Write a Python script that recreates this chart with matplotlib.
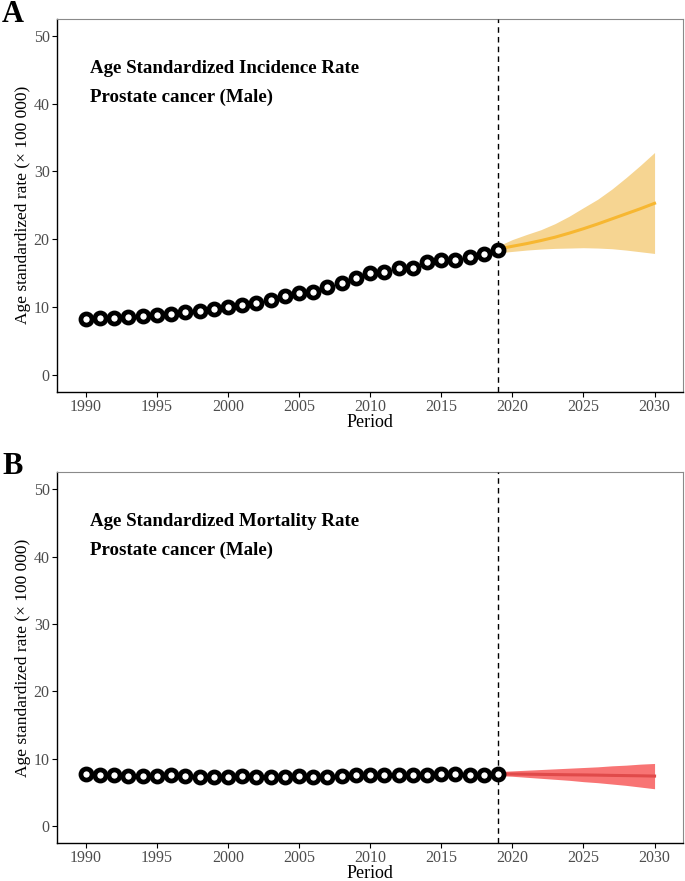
import matplotlib
matplotlib.use("Agg")
import matplotlib.pyplot as plt

plt.rcParams['font.family'] = ['Liberation Serif', 'DejaVu Serif']

years = list(range(1990, 2020))
incidence = [8.29, 8.39, 8.44, 8.59, 8.69, 8.84, 9.04, 9.24, 9.44, 9.69,
             9.93, 10.33, 10.58, 11.07, 11.56, 12.0, 12.26, 12.9, 13.5, 14.34,
             15.05, 15.23, 15.72, 15.82, 16.57, 16.87, 16.87, 17.36, 17.86, 18.45]
mortality = [7.68, 7.63, 7.53, 7.48, 7.48, 7.48, 7.53, 7.43, 7.33, 7.33,
             7.33, 7.38, 7.33, 7.28, 7.33, 7.38, 7.28, 7.28, 7.38, 7.53,
             7.56, 7.53, 7.56, 7.53, 7.63, 7.73, 7.68, 7.63, 7.58, 7.73]

fyears = list(range(2019, 2031))
inc_mean = [18.56, 18.96, 19.35, 19.8, 20.3, 20.9, 21.55, 22.25, 23.0, 23.75, 24.5, 25.3]
inc_low = [18.0, 18.2, 18.4, 18.55, 18.65, 18.7, 18.75, 18.7, 18.6, 18.4, 18.15, 17.9]
inc_up = [19.0, 19.95, 20.7, 21.4, 22.3, 23.4, 24.66, 25.9, 27.4, 29.1, 30.9, 32.8]
mor_mean = [7.75, 7.73, 7.71, 7.68, 7.65, 7.62, 7.6, 7.57, 7.53, 7.5, 7.47, 7.43]
mor_low = [7.5, 7.4, 7.25, 7.1, 6.95, 6.8, 6.6, 6.45, 6.25, 6.05, 5.8, 5.55]
mor_up = [8.1, 8.2, 8.3, 8.4, 8.5, 8.6, 8.7, 8.8, 8.95, 9.05, 9.2, 9.3]

xticks = [1990, 1995, 2000, 2005, 2010, 2015, 2020, 2025, 2030]
yticks = [0, 10, 20, 30, 40, 50]

W, H = 685, 881
fig = plt.figure(figsize=(W / 100, H / 100), dpi=100)


def panel(rect_px, obs, mean, low, up, band_col, line_col, title, letter, letter_y):
    l, t, r, b = rect_px
    ax = fig.add_axes([l / W, 1 - b / H, (r - l) / W, (b - t) / H])
    ax.set_xlim(1988, 2032)
    ax.set_ylim(-2.5, 52.5)
    ax.fill_between(fyears, low, up, color=band_col, lw=0, zorder=1)
    ax.plot(fyears, mean, color=line_col, lw=2.2, zorder=2)
    ax.axvline(2019, color='black', lw=1.0, ls=(0, (4, 3)), zorder=3)
    ax.plot(years, obs, ls='none', marker='o', ms=8, mew=3.4,
            mec='black', mfc='white', zorder=4)
    ax.set_xticks(xticks)
    ax.set_yticks(yticks)
    ax.tick_params(axis='both', labelcolor='#4d4d4d', color='black',
                   labelsize=11.5, length=3.5, width=0.8, direction='out', pad=2)
    ax.tick_params(axis='x', pad=1.5)
    for s in ['left', 'bottom']:
        ax.spines[s].set_color('black')
        ax.spines[s].set_linewidth(1.0)
    for s in ['top', 'right']:
        ax.spines[s].set_color('#8a8a8a')
        ax.spines[s].set_linewidth(0.8)
    ax.set_xlabel('Period', fontsize=13, labelpad=-0.5)
    ax.set_ylabel('Age standardized rate (\u00d7 100 000)', fontsize=12.5, labelpad=2)
    ax.text(1990.3, 45.2, title, fontsize=13.6, fontweight='bold', va='center', ha='left')
    ax.text(1990.3, 40.9, 'Prostate cancer (Male)', fontsize=13.6, fontweight='bold',
            va='center', ha='left')
    fig.text(2 / W, 1 - letter_y / H, letter, fontsize=22, fontweight='bold',
             va='center', ha='left')
    return ax


panel((57.3, 19, 683, 391.7), incidence, inc_mean, inc_low, inc_up,
      '#F6D592', '#F7B731', 'Age Standardized Incidence Rate', 'A', 15)
panel((57.3, 472.3, 683, 843), mortality, mor_mean, mor_low, mor_up,
      '#F87474', '#E04A4A', 'Age Standardized Mortality Rate', 'B', 467)

fig.savefig('out.png', dpi=100)
